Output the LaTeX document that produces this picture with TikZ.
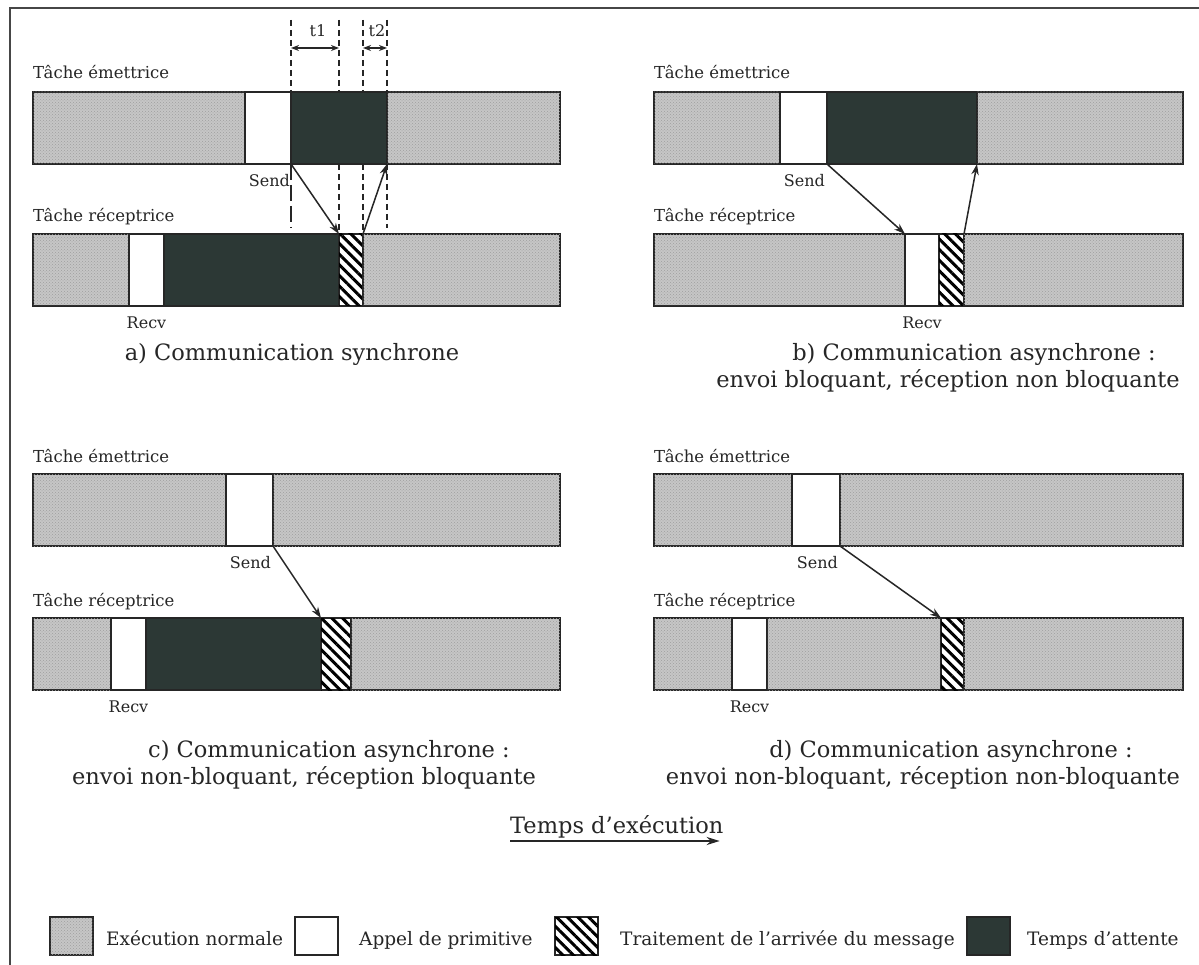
\documentclass[tikz,border=0pt]{standalone}
\usepackage{fontspec}
\setmainfont{DejaVu Serif}
\usetikzlibrary{arrows.meta,patterns,patterns.meta}

\definecolor{execgray}{RGB}{198,198,198}
\definecolor{waitdark}{RGB}{44,56,53}
\definecolor{framegray}{RGB}{70,70,70}
\definecolor{inkgray}{RGB}{38,38,38}

\tikzset{
  seg/.style={inner sep=0pt, outer sep=0pt, anchor=north west, draw=inkgray,
              line width=1.4pt, minimum height=72pt},
  exec/.style={seg, fill=execgray,
               postaction={pattern=crosshatch dots, pattern color=black!38}},
  prim/.style={seg, fill=white},
  hatchbox/.style={seg, fill=white,
               postaction={pattern={Lines[angle=-45,distance=7.5pt,line width=3pt]},
                           pattern color=black}},
  wait/.style={seg, fill=waitdark},
  lab/.style={inner sep=0pt, anchor=base west, text=inkgray, font=\fontsize{16.5}{19}\selectfont},
  sml/.style={inner sep=0pt, text=inkgray, font=\fontsize{16}{19}\selectfont},
  captext/.style={inner sep=0pt, anchor=base, text=inkgray, font=\fontsize{22.5}{26}\selectfont},
  leg/.style={inner sep=0pt, anchor=base west, text=inkgray, font=\fontsize{18.5}{22}\selectfont},
  msg/.style={draw=inkgray, line width=1.5pt, -{Stealth[length=11pt,width=7.5pt]}},
  guide/.style={draw=inkgray, line width=1.7pt, dash pattern=on 6pt off 4pt},
  guidelong/.style={draw=inkgray, line width=1.7pt, dash pattern=on 16pt off 5pt},
  spanarrow/.style={draw=inkgray, line width=1.5pt, {Stealth[length=8pt,width=6pt]}-{Stealth[length=8pt,width=6pt]}},
  key/.style={minimum width=43pt, minimum height=38pt},
}

\begin{document}
\begin{tikzpicture}[x=1pt,y=-1pt]
\useasboundingbox (0,0) rectangle (1199,965);
\fill[white] (0,0) rectangle (1199,965);
% outer frame
\draw[framegray, line width=1.5pt] (10,980) -- (10,8) -- (1215,8);

% ---------------- a) synchronous ----------------
\node[lab] (aSl) at (33,79) {Tâche émettrice};
\node[exec, minimum width=212pt] (aS1) at (33,92) {};
\node[prim, minimum width=46pt]  (aS2) at (245,92) {};
\node[wait, minimum width=96pt]  (aS3) at (291,92) {};
\node[exec, minimum width=173pt] (aS4) at (387,92) {};
\node[sml, anchor=north east] (aSend) at ([xshift=-1pt,yshift=-10pt]aS2.south east) {Send};

\node[lab] (aRl) at (33,222) {Tâche réceptrice};
\node[exec, minimum width=96pt]  (aR1) at (33,234) {};
\node[prim, minimum width=35pt]  (aR2) at (129,234) {};
\node[wait, minimum width=175pt] (aR3) at (164,234) {};
\node[hatchbox, minimum width=24pt] (aR4) at (339,234) {};
\node[exec, minimum width=197pt] (aR5) at (363,234) {};
\node[sml, anchor=north] (aRecv) at ([yshift=-11pt]aR2.south) {Recv};

% timing guides
\coordinate (g1t) at (291,20);  \coordinate (g1b) at (291,228);
\coordinate (g2t) at (339,20);  \coordinate (g2m) at (339,92);  \coordinate (g2n) at (339,164);
\coordinate (g3t) at (363,20);  \coordinate (g3m) at (363,92);  \coordinate (g3n) at (363,164);
\coordinate (g4t) at (387,20);  \coordinate (g4b) at (387,228);
\draw[guide] (g1t) -- (aS3.north west);
\draw[guidelong] (aS3.south west) -- (g1b);
\draw[guide] (g2t) -- (g2m);
\draw[guide] (g2n) -- (aR4.north west);
\draw[guide] (g3t) -- (g3m);
\draw[guide] (g3n) -- (aR4.north east);
\draw[guide] (g4t) -- (aS4.north west);
\draw[guide] (aS4.south west) -- (g4b);
\coordinate (t1a) at (291,48); \coordinate (t1b) at (339,48);
\coordinate (t2a) at (363,48); \coordinate (t2b) at (387,48);
\draw[spanarrow] (t1a) -- (t1b);
\draw[spanarrow] (t2a) -- (t2b);
\node[sml, anchor=base] (t1) at (318,37) {t1};
\node[sml, anchor=base] (t2) at (377,37) {t2};

\draw[msg] (aS3.south west) -- (aR4.north west);
\draw[msg] (aR4.north east) -- (aS4.south west);

\node[captext] (aCap) at (292,361) {a) Communication synchrone};

% ---------------- b) blocking send ----------------
\node[lab] (bSl) at (654,79) {Tâche émettrice};
\node[exec, minimum width=126pt] (bS1) at (654,92) {};
\node[prim, minimum width=47pt]  (bS2) at (780,92) {};
\node[wait, minimum width=150pt] (bS3) at (827,92) {};
\node[exec, minimum width=206pt] (bS4) at (977,92) {};
\node[sml, anchor=north east] (bSend) at ([xshift=-2pt,yshift=-10pt]bS2.south east) {Send};

\node[lab] (bRl) at (654,222) {Tâche réceptrice};
\node[exec, minimum width=251pt] (bR1) at (654,234) {};
\node[prim, minimum width=34pt]  (bR2) at (905,234) {};
\node[hatchbox, minimum width=25pt] (bR3) at (939,234) {};
\node[exec, minimum width=219pt] (bR4) at (964,234) {};
\node[sml, anchor=north] (bRecv) at ([yshift=-11pt]bR2.south) {Recv};

\draw[msg] (bS3.south west) -- (bR2.north west);
\draw[msg] (bR3.north east) -- (bS4.south west);

\node[captext] (bCap1) at (974,361) {b) Communication asynchrone :};
\node[captext] (bCap2) at (948,388) {envoi bloquant, réception non bloquante};

% ---------------- c) blocking receive ----------------
\node[lab] (cSl) at (33,462) {Tâche émettrice};
\node[exec, minimum width=193pt] (cS1) at (33,474) {};
\node[prim, minimum width=47pt]  (cS2) at (226,474) {};
\node[exec, minimum width=287pt] (cS3) at (273,474) {};
\node[sml, anchor=north east] (cSend) at ([xshift=-2pt,yshift=-10pt]cS2.south east) {Send};

\node[lab] (cRl) at (33,606) {Tâche réceptrice};
\node[exec, minimum width=78pt]  (cR1) at (33,618) {};
\node[prim, minimum width=35pt]  (cR2) at (111,618) {};
\node[wait, minimum width=175pt] (cR3) at (146,618) {};
\node[hatchbox, minimum width=30pt] (cR4) at (321,618) {};
\node[exec, minimum width=209pt] (cR5) at (351,618) {};
\node[sml, anchor=north] (cRecv) at ([yshift=-11pt]cR2.south) {Recv};

\draw[msg] (cS2.south east) -- (cR4.north west);

\node[captext] (cCap1) at (329,757) {c) Communication asynchrone :};
\node[captext] (cCap2) at (304,784) {envoi non-bloquant, réception bloquante};

% ---------------- d) non-blocking both ----------------
\node[lab] (dSl) at (654,462) {Tâche émettrice};
\node[exec, minimum width=138pt] (dS1) at (654,474) {};
\node[prim, minimum width=48pt]  (dS2) at (792,474) {};
\node[exec, minimum width=343pt] (dS3) at (840,474) {};
\node[sml, anchor=north east] (dSend) at ([xshift=-2pt,yshift=-10pt]dS2.south east) {Send};

\node[lab] (dRl) at (654,606) {Tâche réceptrice};
\node[exec, minimum width=78pt]  (dR1) at (654,618) {};
\node[prim, minimum width=35pt]  (dR2) at (732,618) {};
\node[exec, minimum width=174pt] (dR3) at (767,618) {};
\node[hatchbox, minimum width=23pt] (dR4) at (941,618) {};
\node[exec, minimum width=219pt] (dR5) at (964,618) {};
\node[sml, anchor=north] (dRecv) at ([yshift=-11pt]dR2.south) {Recv};

\draw[msg] (dS2.south east) -- (dR4.north west);

\node[captext] (dCap1) at (951,757) {d) Communication asynchrone :};
\node[captext] (dCap2) at (923,784) {envoi non-bloquant, réception non-bloquante};

% ---------------- time axis ----------------
\node[captext, anchor=base west] (time) at (510,833) {Temps d’exécution};
\draw[draw=inkgray, line width=1.9pt, -{Stealth[length=13pt,width=8pt]}]
  ([yshift=-8pt]time.base west) -- ([xshift=-4pt,yshift=-8pt]time.base east);

% ---------------- legend ----------------
\node[exec, key] (k1) at (50,917) {};
\node[leg] (k1t) at (106,945) {Exécution normale};
\node[prim, key] (k2) at (295,917) {};
\node[leg] (k2t) at (359,945) {Appel de primitive};
\node[hatchbox, key] (k3) at (555,917) {};
\node[leg] (k3t) at (620,945) {Traitement de l’arrivée du message};
\node[wait, key] (k4) at (967,917) {};
\node[leg] (k4t) at (1027,945) {Temps d’attente};
\end{tikzpicture}
\end{document}
